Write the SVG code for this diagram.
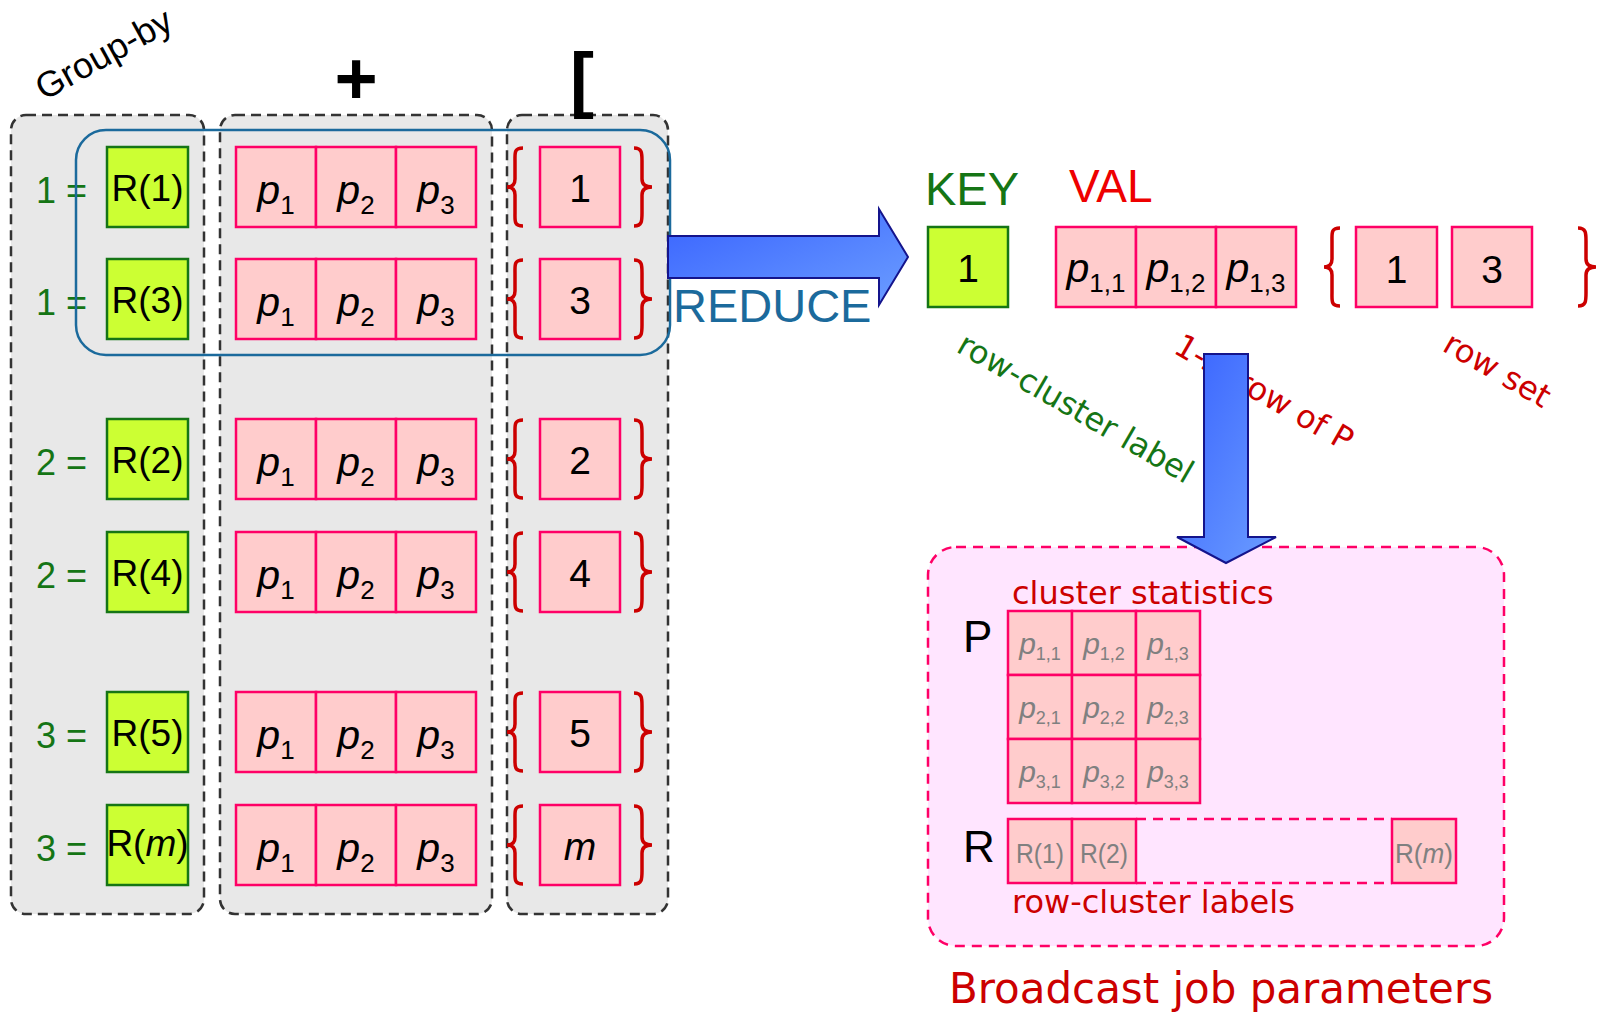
<svg xmlns="http://www.w3.org/2000/svg" width="1603" height="1014" viewBox="0 0 1603 1014">
<style>
.col{fill:#e8e8e8;stroke:#333;stroke-width:2.5;stroke-dasharray:10 6}
.g{fill:#ccff33;stroke:#157515;stroke-width:2.5}
.pc{fill:#ffcccc;stroke:#ff0066;stroke-width:2.5}
.brace{fill:none;stroke:#cc0000;stroke-width:3.5}
.arrow{fill:url(#ag);stroke:#14148c;stroke-width:2}
.s{font-family:"Liberation Sans",Arial,sans-serif}
.d{font-family:"DejaVu Sans",Verdana,sans-serif}
.num{font-family:"Liberation Sans",Arial,sans-serif;font-size:36px;fill:#157515}
.rl{font-family:"Liberation Sans",Arial,sans-serif;font-size:37px;fill:#000;text-anchor:middle}
.pl{font-family:"Liberation Sans",Arial,sans-serif;font-size:41px;fill:#000;text-anchor:middle}
.pl .i{font-style:italic}
.pl .sb{font-size:26px}
.bx{font-family:"Liberation Sans",Arial,sans-serif;font-size:39px;fill:#000;text-anchor:middle}
.gr{font-family:"Liberation Sans",Arial,sans-serif;fill:#808080;text-anchor:middle}
.gr .i{font-style:italic}
</style>
<defs>
<linearGradient id="ag" x1="0" y1="0" x2="1" y2="1">
<stop offset="0" stop-color="#3862ff"/>
<stop offset="1" stop-color="#6b9dff"/>
</linearGradient>
<path id="lb" d="M0 1 C-9 1 -8 6 -8 14 L-8 32 C-8 38 -11 40 -16 40 C-11 40 -8 42 -8 48 L-8 66 C-8 74 -9 79 0 79"/>
<path id="rb" d="M0 1 C8 1 8 6 8 14 L8 32 C8 38 12 40 18 40 C12 40 8 42 8 48 L8 66 C8 74 8 79 0 79"/>
</defs>

<text class="s" font-size="36" transform="translate(44,101) rotate(-29)">Group-by</text>
<text class="s" font-size="74" x="356" y="104" text-anchor="middle" font-weight="bold">+</text>

<g id="col-groupby"><rect class="col" x="11" y="115" width="193" height="799" rx="15"/></g>
<g id="col-p"><rect class="col" x="220" y="115" width="272" height="799" rx="15"/></g>
<g id="col-set"><rect class="col" x="507" y="115" width="161" height="799" rx="15"/></g>
<text class="s" font-size="72" x="570" y="104" font-weight="bold">[</text>

<g id="row1">
<text class="num" x="36" y="203">1 =</text>
<rect class="g" x="107" y="147" width="81" height="80"/><text class="rl" x="147.5" y="201">R(1)</text>
<rect class="pc" x="236" y="147" width="80" height="80"/><rect class="pc" x="316" y="147" width="80" height="80"/><rect class="pc" x="396" y="147" width="80" height="80"/>
<text class="pl" x="276" y="204"><tspan class="i">p</tspan><tspan class="sb" dy="10">1</tspan></text>
<text class="pl" x="356" y="204"><tspan class="i">p</tspan><tspan class="sb" dy="10">2</tspan></text>
<text class="pl" x="436" y="204"><tspan class="i">p</tspan><tspan class="sb" dy="10">3</tspan></text>
<use href="#lb" class="brace" x="523" y="147"/><rect class="pc" x="540" y="147" width="80" height="80"/><use href="#rb" class="brace" x="634" y="147"/>
<text class="bx" x="580" y="202">1</text>
</g>
<g id="row2">
<text class="num" x="36" y="315">1 =</text>
<rect class="g" x="107" y="259" width="81" height="80"/><text class="rl" x="147.5" y="313">R(3)</text>
<rect class="pc" x="236" y="259" width="80" height="80"/><rect class="pc" x="316" y="259" width="80" height="80"/><rect class="pc" x="396" y="259" width="80" height="80"/>
<text class="pl" x="276" y="316"><tspan class="i">p</tspan><tspan class="sb" dy="10">1</tspan></text>
<text class="pl" x="356" y="316"><tspan class="i">p</tspan><tspan class="sb" dy="10">2</tspan></text>
<text class="pl" x="436" y="316"><tspan class="i">p</tspan><tspan class="sb" dy="10">3</tspan></text>
<use href="#lb" class="brace" x="523" y="259"/><rect class="pc" x="540" y="259" width="80" height="80"/><use href="#rb" class="brace" x="634" y="259"/>
<text class="bx" x="580" y="314">3</text>
</g>
<g id="row3">
<text class="num" x="36" y="475">2 =</text>
<rect class="g" x="107" y="419" width="81" height="80"/><text class="rl" x="147.5" y="473">R(2)</text>
<rect class="pc" x="236" y="419" width="80" height="80"/><rect class="pc" x="316" y="419" width="80" height="80"/><rect class="pc" x="396" y="419" width="80" height="80"/>
<text class="pl" x="276" y="476"><tspan class="i">p</tspan><tspan class="sb" dy="10">1</tspan></text>
<text class="pl" x="356" y="476"><tspan class="i">p</tspan><tspan class="sb" dy="10">2</tspan></text>
<text class="pl" x="436" y="476"><tspan class="i">p</tspan><tspan class="sb" dy="10">3</tspan></text>
<use href="#lb" class="brace" x="523" y="419"/><rect class="pc" x="540" y="419" width="80" height="80"/><use href="#rb" class="brace" x="634" y="419"/>
<text class="bx" x="580" y="474">2</text>
</g>
<g id="row4">
<text class="num" x="36" y="588">2 =</text>
<rect class="g" x="107" y="532" width="81" height="80"/><text class="rl" x="147.5" y="586">R(4)</text>
<rect class="pc" x="236" y="532" width="80" height="80"/><rect class="pc" x="316" y="532" width="80" height="80"/><rect class="pc" x="396" y="532" width="80" height="80"/>
<text class="pl" x="276" y="589"><tspan class="i">p</tspan><tspan class="sb" dy="10">1</tspan></text>
<text class="pl" x="356" y="589"><tspan class="i">p</tspan><tspan class="sb" dy="10">2</tspan></text>
<text class="pl" x="436" y="589"><tspan class="i">p</tspan><tspan class="sb" dy="10">3</tspan></text>
<use href="#lb" class="brace" x="523" y="532"/><rect class="pc" x="540" y="532" width="80" height="80"/><use href="#rb" class="brace" x="634" y="532"/>
<text class="bx" x="580" y="587">4</text>
</g>
<g id="row5">
<text class="num" x="36" y="748">3 =</text>
<rect class="g" x="107" y="692" width="81" height="80"/><text class="rl" x="147.5" y="746">R(5)</text>
<rect class="pc" x="236" y="692" width="80" height="80"/><rect class="pc" x="316" y="692" width="80" height="80"/><rect class="pc" x="396" y="692" width="80" height="80"/>
<text class="pl" x="276" y="749"><tspan class="i">p</tspan><tspan class="sb" dy="10">1</tspan></text>
<text class="pl" x="356" y="749"><tspan class="i">p</tspan><tspan class="sb" dy="10">2</tspan></text>
<text class="pl" x="436" y="749"><tspan class="i">p</tspan><tspan class="sb" dy="10">3</tspan></text>
<use href="#lb" class="brace" x="523" y="692"/><rect class="pc" x="540" y="692" width="80" height="80"/><use href="#rb" class="brace" x="634" y="692"/>
<text class="bx" x="580" y="747">5</text>
</g>
<g id="row6">
<text class="num" x="36" y="861">3 =</text>
<rect class="g" x="107" y="805" width="81" height="80"/><text class="rl" x="147.5" y="856" font-size="29">R(<tspan font-style="italic">m</tspan>)</text>
<rect class="pc" x="236" y="805" width="80" height="80"/><rect class="pc" x="316" y="805" width="80" height="80"/><rect class="pc" x="396" y="805" width="80" height="80"/>
<text class="pl" x="276" y="862"><tspan class="i">p</tspan><tspan class="sb" dy="10">1</tspan></text>
<text class="pl" x="356" y="862"><tspan class="i">p</tspan><tspan class="sb" dy="10">2</tspan></text>
<text class="pl" x="436" y="862"><tspan class="i">p</tspan><tspan class="sb" dy="10">3</tspan></text>
<use href="#lb" class="brace" x="523" y="805"/><rect class="pc" x="540" y="805" width="80" height="80"/><use href="#rb" class="brace" x="634" y="805"/>
<text class="bx" x="580" y="860" font-style="italic">m</text>
</g>

<g id="reduce-group"><rect x="76" y="130" width="594" height="225" rx="30" fill="none" stroke="#1b6a9c" stroke-width="2.5"/></g>

<g id="connectors">
<path id="reduce-arrow" class="arrow" d="M668 236 L879 236 L879 209 L908 257 L879 305 L879 278 L668 278 Z"/>
</g>
<text class="s" font-size="47" x="673" y="322" fill="#1b6a9c">REDUCE</text>

<g id="key">
<text class="s" font-size="47" x="925" y="205" fill="#157515">KEY</text>
<rect class="g" x="928" y="227" width="80" height="80"/>
<text class="bx" x="968" y="282">1</text>
</g>
<g id="val">
<text class="s" font-size="46" x="1069" y="202" fill="#ee0000">VAL</text>
<rect class="pc" x="1056" y="227" width="80" height="80"/><rect class="pc" x="1136" y="227" width="80" height="80"/><rect class="pc" x="1216" y="227" width="80" height="80"/>
<text class="pl" x="1096" y="282"><tspan class="i">p</tspan><tspan class="sb" dy="10">1,1</tspan></text>
<text class="pl" x="1176" y="282"><tspan class="i">p</tspan><tspan class="sb" dy="10">1,2</tspan></text>
<text class="pl" x="1256" y="282"><tspan class="i">p</tspan><tspan class="sb" dy="10">1,3</tspan></text>
<use href="#lb" class="brace" x="1340" y="227"/>
<rect class="pc" x="1356" y="227" width="81" height="80"/><text class="bx" x="1396.5" y="283">1</text>
<rect class="pc" x="1452" y="227" width="80" height="80"/><text class="bx" x="1492" y="283">3</text>
<use href="#rb" class="brace" x="1578" y="227"/>
</g>

<text class="d" font-size="32" fill="#157515" transform="translate(955,351) rotate(30)">row-cluster label</text>
<text class="d" font-size="32" fill="#cc0000" transform="translate(1172,352) rotate(30)">1-st row of P</text>
<text class="d" font-size="32" fill="#cc0000" transform="translate(1441,350) rotate(30)">row set</text>

<g id="params">
<rect x="928" y="547" width="576" height="399" rx="28" fill="#ffe5ff" stroke="#ff0066" stroke-width="2.5" stroke-dasharray="10 7"/>
<text class="d" font-size="32" x="1012" y="604" fill="#cc0000">cluster statistics</text>
<text class="s" font-size="44" x="963" y="652" fill="#000">P</text>
<rect class="pc" x="1008" y="611" width="64" height="64"/><rect class="pc" x="1072" y="611" width="64" height="64"/><rect class="pc" x="1136" y="611" width="64" height="64"/>
<rect class="pc" x="1008" y="675" width="64" height="64"/><rect class="pc" x="1072" y="675" width="64" height="64"/><rect class="pc" x="1136" y="675" width="64" height="64"/>
<rect class="pc" x="1008" y="739" width="64" height="64"/><rect class="pc" x="1072" y="739" width="64" height="64"/><rect class="pc" x="1136" y="739" width="64" height="64"/>
<text class="gr" font-size="30" x="1040" y="654"><tspan class="i">p</tspan><tspan font-size="18" dy="6">1,1</tspan></text>
<text class="gr" font-size="30" x="1104" y="654"><tspan class="i">p</tspan><tspan font-size="18" dy="6">1,2</tspan></text>
<text class="gr" font-size="30" x="1168" y="654"><tspan class="i">p</tspan><tspan font-size="18" dy="6">1,3</tspan></text>
<text class="gr" font-size="30" x="1040" y="718"><tspan class="i">p</tspan><tspan font-size="18" dy="6">2,1</tspan></text>
<text class="gr" font-size="30" x="1104" y="718"><tspan class="i">p</tspan><tspan font-size="18" dy="6">2,2</tspan></text>
<text class="gr" font-size="30" x="1168" y="718"><tspan class="i">p</tspan><tspan font-size="18" dy="6">2,3</tspan></text>
<text class="gr" font-size="30" x="1040" y="782"><tspan class="i">p</tspan><tspan font-size="18" dy="6">3,1</tspan></text>
<text class="gr" font-size="30" x="1104" y="782"><tspan class="i">p</tspan><tspan font-size="18" dy="6">3,2</tspan></text>
<text class="gr" font-size="30" x="1168" y="782"><tspan class="i">p</tspan><tspan font-size="18" dy="6">3,3</tspan></text>
<text class="s" font-size="44" x="963" y="862" fill="#000">R</text>
<rect class="pc" x="1008" y="819" width="64" height="64"/><rect class="pc" x="1072" y="819" width="64" height="64"/>
<path d="M1136 819 H1392 M1136 883 H1392" stroke="#ff0066" stroke-width="2.5" stroke-dasharray="10 7" fill="none"/>
<rect class="pc" x="1392" y="819" width="64" height="64"/>
<text class="gr" font-size="27" x="1040" y="863" textLength="48" lengthAdjust="spacingAndGlyphs">R(1)</text>
<text class="gr" font-size="27" x="1104" y="863" textLength="48" lengthAdjust="spacingAndGlyphs">R(2)</text>
<text class="gr" font-size="27" x="1424" y="863" textLength="58" lengthAdjust="spacingAndGlyphs">R(<tspan class="i">m</tspan>)</text>
<text class="d" font-size="32" x="1012" y="913" fill="#cc0000">row-cluster labels</text>
</g>
<text class="d" font-size="42" x="949" y="1003" fill="#cc0000" textLength="544" lengthAdjust="spacingAndGlyphs">Broadcast job parameters</text>

<g id="connectors2">
<path id="broadcast-arrow" class="arrow" d="M1204 354 L1248 354 L1248 537 L1276 537 L1226 563 L1177 537 L1204 537 Z"/>
</g>
</svg>
